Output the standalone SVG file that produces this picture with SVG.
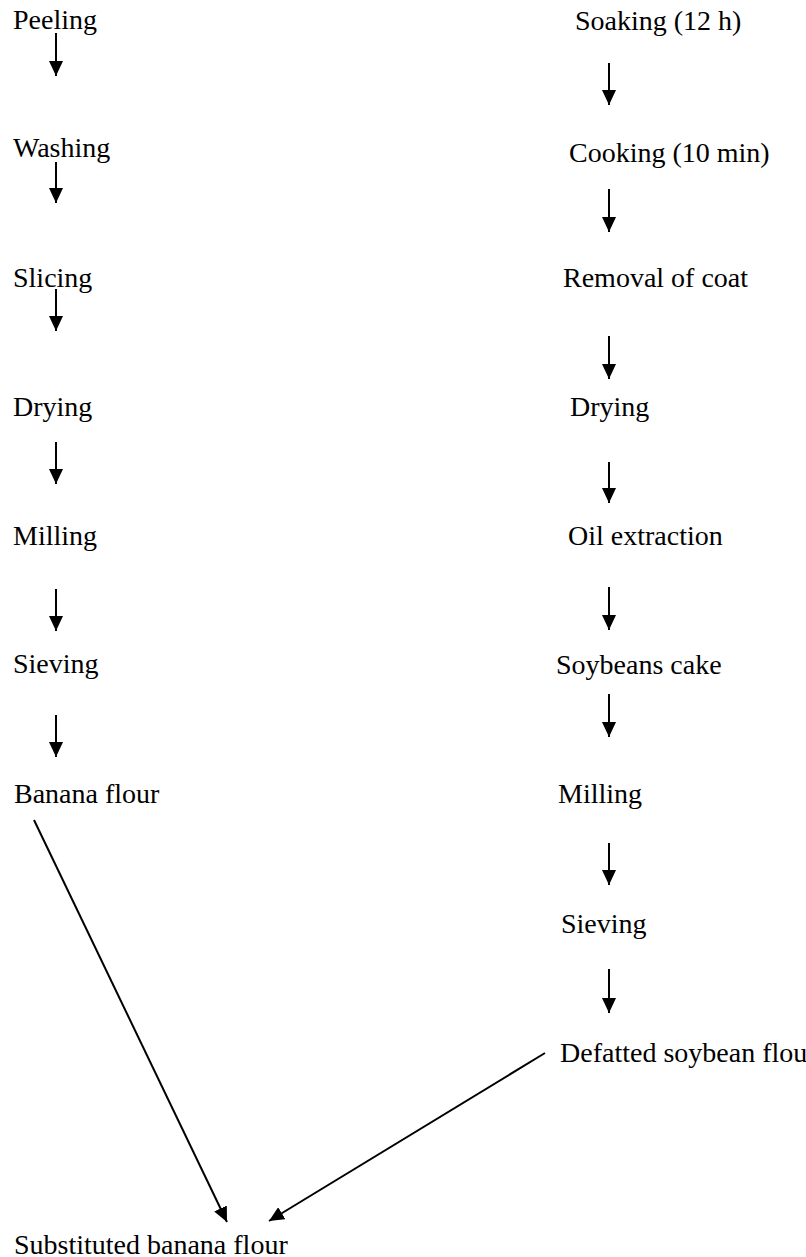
<svg xmlns="http://www.w3.org/2000/svg" width="806" height="1257" viewBox="0 0 806 1257">
<style>
text{font-family:"Liberation Serif","Times New Roman",serif;font-size:28px;fill:#000}
.c line{stroke:#000;stroke-width:2;fill:none}
</style>
<defs>
<marker id="ah" markerUnits="userSpaceOnUse" markerWidth="16" markerHeight="14" viewBox="0 0 16 14" refX="15" refY="7" orient="auto">
<path d="M0,0 L15,7 L0,14 z" fill="#000"/>
</marker>
</defs>
<rect width="806" height="1257" fill="#fff"/>
<g id="n-peeling"><text x="13" y="29">Peeling</text></g>
<g id="n-washing"><text x="13" y="157">Washing</text></g>
<g id="n-slicing"><text x="13" y="287">Slicing</text></g>
<g id="n-drying-l"><text x="13" y="416">Drying</text></g>
<g id="n-milling-l"><text x="13" y="545">Milling</text></g>
<g id="n-sieving-l"><text x="13" y="673">Sieving</text></g>
<g id="n-banana"><text x="14" y="803">Banana flour</text></g>
<g id="n-soaking"><text x="575" y="30">Soaking (12 h)</text></g>
<g id="n-cooking"><text x="569" y="162">Cooking (10 min)</text></g>
<g id="n-removal"><text x="563" y="287">Removal of coat</text></g>
<g id="n-drying-r"><text x="570" y="416">Drying</text></g>
<g id="n-oil"><text x="568" y="545">Oil extraction</text></g>
<g id="n-cake"><text x="556" y="674">Soybeans cake</text></g>
<g id="n-milling-r"><text x="558" y="803">Milling</text></g>
<g id="n-sieving-r"><text x="561" y="933">Sieving</text></g>
<g id="n-defatted"><text x="560" y="1062">Defatted soybean flour</text></g>
<g id="n-substituted"><text x="14" y="1254">Substituted banana flour</text></g>
<g id="connectors" class="c">
<line x1="56" y1="33" x2="56" y2="76" marker-end="url(#ah)"/>
<line x1="56" y1="162" x2="56" y2="203" marker-end="url(#ah)"/>
<line x1="56" y1="289" x2="56" y2="331" marker-end="url(#ah)"/>
<line x1="56" y1="442" x2="56" y2="484" marker-end="url(#ah)"/>
<line x1="56" y1="589" x2="56" y2="631" marker-end="url(#ah)"/>
<line x1="56" y1="715" x2="56" y2="757" marker-end="url(#ah)"/>
<line x1="609" y1="63" x2="609" y2="105" marker-end="url(#ah)"/>
<line x1="609" y1="189" x2="609" y2="232" marker-end="url(#ah)"/>
<line x1="609" y1="336" x2="609" y2="379" marker-end="url(#ah)"/>
<line x1="609" y1="462" x2="609" y2="503" marker-end="url(#ah)"/>
<line x1="609" y1="587" x2="609" y2="630" marker-end="url(#ah)"/>
<line x1="609" y1="694" x2="609" y2="737" marker-end="url(#ah)"/>
<line x1="609" y1="843" x2="609" y2="885" marker-end="url(#ah)"/>
<line x1="609" y1="969" x2="609" y2="1013" marker-end="url(#ah)"/>
<line x1="34" y1="820" x2="227" y2="1222" marker-end="url(#ah)"/>
<line x1="545" y1="1053" x2="269" y2="1221" marker-end="url(#ah)"/>
</g>
</svg>
